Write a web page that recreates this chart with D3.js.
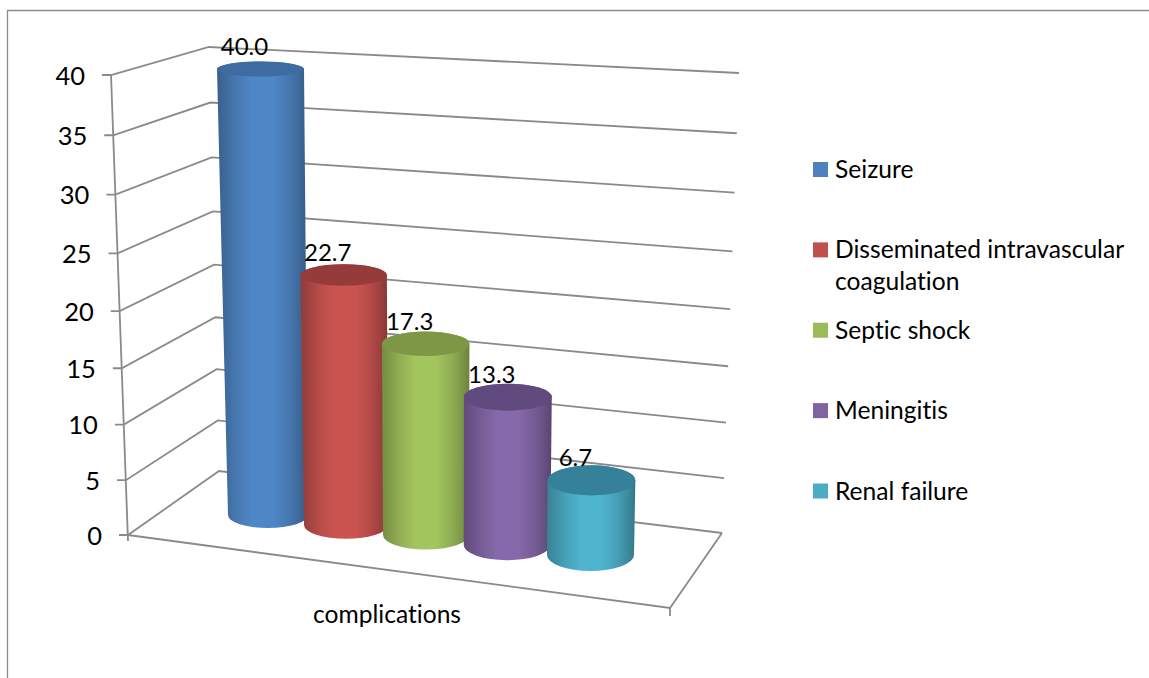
<!DOCTYPE html>
<html>
<head>
<meta charset="utf-8">
<style>
html,body{margin:0;padding:0;background:#fff;overflow:hidden}
svg{display:block}
text{font-family:Lato,"Open Sans",sans-serif;fill:#000;font-variant-ligatures:none}
</style>
<script src="https://cdn.jsdelivr.net/npm/d3@7"></script>
</head>
<body>
<svg id="chart" width="1149" height="678"></svg>
<script>
// Chart content
const categories = ["Seizure", "Disseminated intravascular coagulation", "Septic shock", "Meningitis", "Renal failure"];
const values = [40.0, 22.7, 17.3, 13.3, 6.7];
const valueLabels = ["40.0", "22.7", "17.3", "13.3", "6.7"];
const valueTicks = [0, 5, 10, 15, 20, 25, 30, 35, 40];
const axisTitle = "complications";
const legendLines = [["Seizure"], ["Disseminated intravascular", "coagulation"], ["Septic shock"], ["Meningitis"], ["Renal failure"]];

// Series colours: legend swatch, lit face of the cylinder, cap
const swatchColors = ["#4f81bd", "#c0504d", "#9bbb59", "#8064a2", "#4bacc6"];
const bodyColors = ["#4f86c6", "#cb5451", "#a3c55e", "#8669aa", "#4fb4cf"];
const capColors = ["#3e6ca0", "#953b39", "#7d9746", "#604a7e", "#35819a"];

const GRID = "#8a8a8a";
const FONT_SIZE = 24.6;
const TICK_SIZE = 25.5;
const LABEL_SIZE = 24;

const svg = d3.select("#chart");
const defs = svg.append("defs");

// Foreshortening of the vertical axis: equal steps shrink towards the floor
const DEPTH = 1.055;
const valueFraction = d3.scaleLinear().domain([0, 40]).range([0, 1]);
const warp = v => { const t = valueFraction(v); return t / (t + (1 - t) * DEPTH); };

// Each corner edge of the 3D box is a pair of scales from warped value to screen
const edge = (x0, y0, x1, y1) => ({
  x: v => d3.scaleLinear().domain([0, 1]).range([x0, x1])(warp(v)),
  y: v => d3.scaleLinear().domain([0, 1]).range([y0, y1])(warp(v))
});
const frontLeft = edge(128, 535, 111, 75);
const backLeft = edge(219, 471, 209, 47);
const backRight = edge(722, 533, 739, 73);

// Cylinder placement along the floor, per category index
const idx = d3.scaleLinear().domain([0, 4]);
const baseX = d3.scaleLinear().domain([0, 1, 2, 3, 4]).range([268, 346, 426, 507, 590.5]);
const baseY = idx.copy().range([515, 555]);
const fullHeight = idx.copy().range([446, 466]);
const lean = idx.copy().range([-7.5, 6]);
const rxBase = d3.scaleLinear().domain([0, 1, 2, 4]).range([40, 42, 43, 43.5]);
const rxFull = idx.copy().range([43.5, 46]);
const ryBase = idx.copy().range([13, 16]);
const RY_SHRINK = 5.5;

const frame = svg.append("g").attr("fill", "none").attr("stroke", "#8c8c8c").attr("stroke-width", 1.3);
frame.append("path").attr("d", d3.line()([[7.5, 678], [7.5, 10.5], [1149, 10.5]]));

// Walls and floor
const grid = svg.append("g").attr("fill", "none").attr("stroke", GRID).attr("stroke-width", 1.8);
const line = d3.line();
valueTicks.forEach(v => {
  grid.append("path").attr("d", line([
    [frontLeft.x(v) - 9, frontLeft.y(v)],
    [frontLeft.x(v), frontLeft.y(v)],
    [backLeft.x(v), backLeft.y(v)],
    [backRight.x(v), backRight.y(v)]
  ]));
});
grid.append("path").attr("d", line([[frontLeft.x(40), frontLeft.y(40)], [frontLeft.x(0), frontLeft.y(0) + 6]]));
grid.append("path").attr("d", line([
  [frontLeft.x(0), frontLeft.y(0)], [670, 608], [backRight.x(0), backRight.y(0)]
]));
grid.append("path").attr("d", line([[670, 608], [670, 616]]));

// Value axis labels
svg.append("g").selectAll("text").data(valueTicks).join("text")
  .attr("x", v => frontLeft.x(v) - 26)
  .attr("y", v => frontLeft.y(v) + 9.5)
  .attr("text-anchor", "end")
  .attr("font-size", TICK_SIZE)
  .text(v => v);

// Cylinders, back-left first so that each one overlaps its left neighbour
const bars = values.map((v, i) => {
  const w = warp(v);
  const bx = baseX(i), by = baseY(i);
  const tx = bx + lean(i) * w, ty = by - fullHeight(i) * w;
  const brx = rxBase(i);
  const trx = brx + (rxFull(i) - brx) * w;
  const bry = ryBase(i);
  const tryy = bry - RY_SHRINK * w;
  return { v, i, bx, by, tx, ty, brx, trx, bry, tryy };
});

bars.forEach(b => {
  const base = d3.color(bodyColors[b.i]);
  const g = defs.append("linearGradient").attr("id", "shade" + b.i)
    .attr("x1", 0).attr("x2", 1).attr("y1", 0).attr("y2", 0);
  [[0, 0.72], [0.08, 0.78], [0.22, 0.9], [0.38, 1], [0.62, 1], [0.8, 0.88], [0.92, 0.76], [1, 0.66]]
    .forEach(([o, k]) => {
      g.append("stop").attr("offset", o)
        .attr("stop-color", d3.rgb(base.r * k, base.g * k, base.b * k).formatHex());
    });
});

const cyl = svg.append("g").selectAll("g").data(bars).join("g");
cyl.append("path")
  .attr("fill", b => `url(#shade${b.i})`)
  .attr("d", b => {
    const p = d3.path();
    p.moveTo(b.tx - b.trx, b.ty);
    p.lineTo(b.bx - b.brx, b.by);
    return p.toString()
      + `A${b.brx},${b.bry} 0 0 0 ${b.bx + b.brx},${b.by}`
      + `L${b.tx + b.trx},${b.ty}`
      + `A${b.trx},${b.tryy} 0 0 0 ${b.tx - b.trx},${b.ty}Z`;
  });
cyl.append("ellipse")
  .attr("cx", b => b.tx).attr("cy", b => b.ty)
  .attr("rx", b => b.trx).attr("ry", b => b.tryy)
  .attr("fill", b => capColors[b.i]);

// Data labels
svg.append("g").selectAll("text").data(bars).join("text")
  .attr("x", b => b.tx - 16)
  .attr("y", b => b.ty - 14)
  .attr("text-anchor", "middle")
  .attr("font-size", LABEL_SIZE)
  .text(b => valueLabels[b.i]);

// Category label under the floor
svg.append("text").attr("x", 387).attr("y", 622.5)
  .attr("text-anchor", "middle").attr("font-size", FONT_SIZE).text(axisTitle);

// Legend
const legendY = d3.scaleLinear().domain([0, 4]).range([177, 498.5]);
const legend = svg.append("g").selectAll("g").data(categories).join("g");
legend.append("rect")
  .attr("x", 813).attr("width", 15).attr("height", 15)
  .attr("y", (d, i) => legendY(i) - 15)
  .attr("fill", (d, i) => swatchColors[i]);
legend.each(function (d, i) {
  d3.select(this).selectAll("text").data(legendLines[i]).join("text")
    .attr("x", 835)
    .attr("y", (l, k) => legendY(i) + 1 + k * 32)
    .attr("font-size", FONT_SIZE)
    .text(l => l);
});
</script>
</body>
</html>
